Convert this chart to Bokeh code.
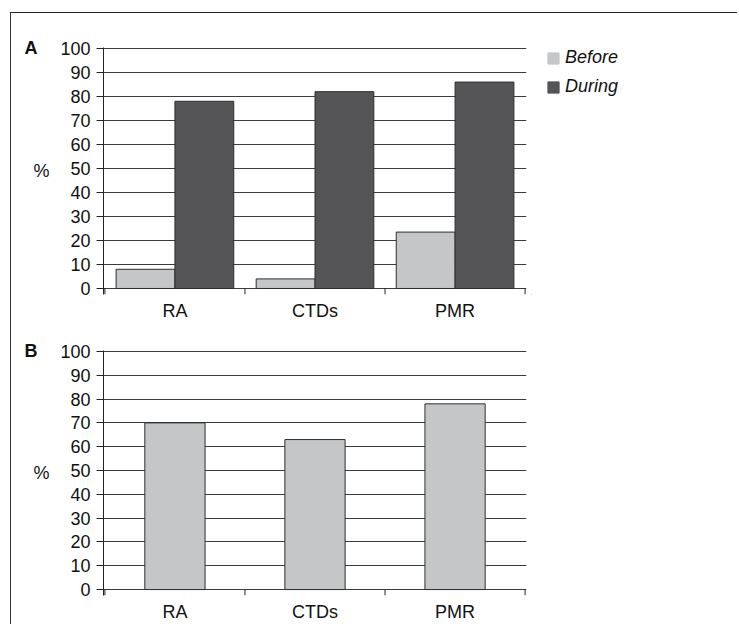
from bokeh.plotting import figure
from bokeh.models import (ColumnDataSource, FactorRange, Range1d, FixedTicker,
                          Legend, LegendItem, LinearAxis)
from bokeh.layouts import column, row
from bokeh.transform import dodge
from bokeh.embed import file_html
from bokeh.resources import INLINE

# ---- data ----
categories = ["RA", "CTDs", "PMR"]
series_names = ["Before", "During"]
before_a = [8, 4, 23.5]
during_a = [78, 82, 86]
values_b = [70, 63, 78]
y_ticks = [0, 10, 20, 30, 40, 50, 60, 70, 80, 90, 100]
panel_letters = ["A", "B"]
y_label = "%"

FONT = "Liberation Sans"
LIGHT = "#c5c6c8"
DARK = "#555557"
EDGE = "#2e2e2e"
GRID = "#3c3c3c"
W = 726
WA = 520


def make_panel(width, height, top, bottom, letter):
    p = figure(
        x_range=FactorRange(factors=categories, range_padding=0.01,
                            range_padding_units="absolute"),
        y_range=Range1d(-2.5, 100.4),
        width=width, height=height, output_backend="svg",
        toolbar_location=None,
        min_border_left=92, min_border_right=width - 92 - 423,
        min_border_top=top, min_border_bottom=bottom,
    )
    p.outline_line_color = None
    p.background_fill_color = "white"
    p.border_fill_color = "white"

    # y axis
    ya = p.yaxis[0]
    ya.ticker = FixedTicker(ticks=y_ticks)
    ya.minor_tick_line_color = None
    ya.major_tick_in = 0
    ya.major_tick_out = 7
    ya.major_tick_line_color = "#222222"
    ya.axis_line_color = "#222222"
    ya.major_label_standoff = 6
    ya.major_label_text_font = FONT
    ya.major_label_text_font_size = "18px"
    ya.major_label_text_color = "#111111"
    ya.axis_label = y_label
    ya.axis_label_orientation = "horizontal"
    ya.axis_label_standoff = 8
    ya.axis_label_text_font = FONT
    ya.axis_label_text_font_size = "18px"
    ya.axis_label_text_font_style = "normal"
    ya.axis_label_text_color = "#111111"

    # panel letter, as an outer axis carrying a single label at the top
    la = LinearAxis(ticker=FixedTicker(ticks=[100]),
                    major_label_overrides={100: letter},
                    axis_line_color=None, major_tick_line_color=None,
                    minor_tick_line_color=None, major_tick_in=0,
                    major_tick_out=0, major_label_standoff=-7,
                    major_label_text_font=FONT,
                    major_label_text_font_size="18px",
                    major_label_text_font_style="bold",
                    major_label_text_color="#111111")
    p.add_layout(la, "left")

    # x axis (labels only)
    xa = p.xaxis[0]
    xa.axis_line_color = None
    xa.major_tick_line_color = None
    xa.major_tick_out = 0
    xa.major_label_standoff = 6
    xa.major_label_text_font = FONT
    xa.major_label_text_font_size = "18px"
    xa.major_label_text_color = "#111111"

    p.xgrid.grid_line_color = None
    p.ygrid.ticker = FixedTicker(ticks=y_ticks)
    p.ygrid.grid_line_color = GRID
    p.ygrid.grid_line_width = 1.2

    # category boundary ticks
    bounds = [(c, -0.5) for c in categories] + [(categories[-1], 0.5)]
    p.segment(x0=bounds, y0=0, x1=bounds, y1=-2.5, line_color="#222222",
              line_width=1)
    return p


# ---- panel A ----
pA = make_panel(WA, 311, 34, 30, panel_letters[0])
srcA = ColumnDataSource(dict(cat=categories, before=before_a, during=during_a))
pA.vbar(x=dodge("cat", -0.21, range=pA.x_range), top="before", bottom=0,
        width=0.42, source=srcA, fill_color=LIGHT, line_color=EDGE,
        line_width=1)
pA.vbar(x=dodge("cat", 0.21, range=pA.x_range), top="during", bottom=0,
        width=0.42, source=srcA, fill_color=DARK, line_color=EDGE,
        line_width=1)

# ---- legend for panel A (its own small canvas to the right) ----
pL = figure(width=W - WA, height=311, output_backend="svg", title=None,
            toolbar_location=None, x_axis_location=None, y_axis_location=None,
            min_border_left=0, min_border_right=0, min_border_top=0,
            min_border_bottom=0, x_range=Range1d(0, 1), y_range=Range1d(0, 1))
pL.outline_line_color = None
pL.grid.visible = False
# swatch-only renderers, kept outside the visible range
swatch = ColumnDataSource(dict(x=[-5], top=[0]))
sw1 = pL.vbar(x="x", top="top", bottom=0, width=0.1, source=swatch,
              fill_color=LIGHT, line_color=LIGHT)
sw2 = pL.vbar(x="x", top="top", bottom=0, width=0.1, source=swatch,
              fill_color=DARK, line_color=DARK)
legend = Legend(
    items=[LegendItem(label=series_names[0], renderers=[sw1]),
           LegendItem(label=series_names[1], renderers=[sw2])],
    location=(15, 197), orientation="vertical",
    glyph_width=14, glyph_height=14, label_height=14, spacing=8,
    label_standoff=5, padding=4, margin=0,
    label_text_font=FONT, label_text_font_size="18px",
    label_text_font_style="italic", label_text_color="#111111",
    border_line_color=None, background_fill_alpha=0,
)
pL.add_layout(legend)

# ---- panel B ----
pB = make_panel(W, 300, 26, 27, panel_letters[1])
srcB = ColumnDataSource(dict(cat=categories, val=values_b))
pB.vbar(x="cat", top="val", bottom=0, width=0.43, source=srcB,
        fill_color=LIGHT, line_color=EDGE, line_width=1)

layout = column(row(pA, pL), pB, margin=(12, 0, 0, 10),
                styles={"border-top": "1.5px solid #222222",
                        "border-left": "1px solid #333333"})

open("out.html", "w").write(file_html(layout, INLINE))
